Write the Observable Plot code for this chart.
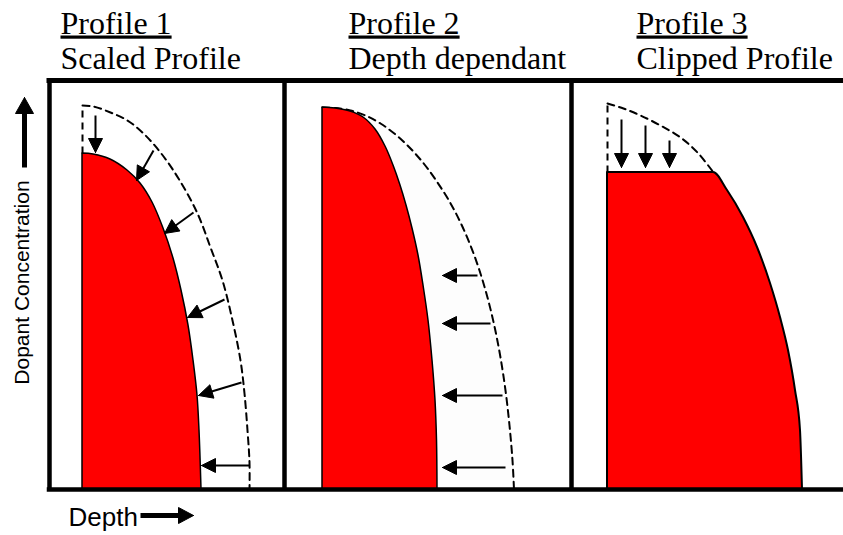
<!DOCTYPE html>
<html><head><meta charset="utf-8">
<script src="https://cdn.jsdelivr.net/npm/d3@7"></script>
<script src="https://cdn.jsdelivr.net/npm/@observablehq/plot@0.6"></script>
<style>html,body{margin:0;padding:0;background:#fff;} #chart{width:843px;height:535px;}
.serif text{font-family:"Liberation Serif","Times New Roman",Times,serif !important;}
</style>
</head><body><div id="chart"></div>
<script>
// ---- Panels ----
const panelTitles = ["Profile 1", "Profile 2", "Profile 3"];
const panelSubtitles = ["Scaled Profile", "Depth dependant", "Clipped Profile"];
const panelSurface = [33, 273, 558];      // depth position of each panel's surface
const panelDividers = [0, 235, 522];      // panel left borders (depth units)
const titleDepth = [11, 299, 587];        // title anchor per panel

// ---- Profile 1 (scaled) ----
const p1OrigDepth = [0, 11, 28, 45, 61, 78, 96, 115, 128, 140, 150, 158, 162, 165, 167, 167];
const p1OrigConc  = [384, 383, 377, 369, 356, 337, 311, 276, 242, 209, 169, 129, 96, 59, 27, 0];
const p1NewDepth  = [0, 11, 28, 45, 58, 70, 81, 91, 99, 106, 111, 115, 117, 119];
const p1NewConc   = [336, 335, 330, 319, 306, 287, 261, 231, 199, 164, 129, 94, 59, 0];
const p1ArrowFromDepth = [13, 71, 111, 142, 159, 167];
const p1ArrowFromConc  = [374, 339, 277, 190, 107, 24];
const p1ArrowToDepth   = [13, 54, 82, 105, 116, 119];
const p1ArrowToConc    = [337, 309, 256, 172, 94, 24];

// ---- Profile 2 (depth dependant) ----
const p2OrigDepth = [0, 13, 28, 43, 58, 73, 88, 102, 115, 127, 138, 148, 157, 165, 172, 178, 183, 187, 190, 191.5];
const p2OrigConc  = [382, 381.5, 379, 374, 366, 355, 341, 325, 307, 288, 267, 244, 219, 192, 163, 132, 99, 64, 29, 0];
const p2NewDepth  = [0, 13, 28, 41, 53, 63, 71, 78, 84, 90, 96, 101, 106, 110, 113, 114.5, 115];
const p2NewConc   = [382, 381, 378, 372, 360, 343, 324, 304, 284, 261, 234, 204, 169, 129, 89, 49, 0];
const p2ArrowFromDepth = [155, 168, 180, 183];
const p2ArrowToDepth   = [120, 120, 120, 120];
const p2ArrowConc      = [214, 166, 94, 22];

// ---- Profile 3 (clipped) ----
const p3OrigDepth = [0, 16, 33, 53, 73, 90, 106];
const p3OrigConc  = [386, 381, 374, 364, 352, 337, 317];
const p3NewDepth  = [0, 106, 120, 136, 150, 163, 173, 181, 188, 193, 195];
const p3NewConc   = [317, 317, 299, 272, 242, 206, 172, 139, 99, 59, 0];
const p3ArrowDepth    = [14, 38, 62];
const p3ArrowFromConc = [370, 364, 349];
const p3ArrowToConc   = [322, 322, 322];

// ---- Axis annotations ----
const yLabel = "Dopant Concentration";
const xLabel = "Depth";

// helpers
const pts = (p, depth, conc) => depth.map((d, i) => ({x: panelSurface[p] + d, y: conc[i]}));
const arrows = (p, fd, fc, td, tc) => fd.map((d, i) => ({
  x1: panelSurface[p] + d, y1: fc[i], x2: panelSurface[p] + td[i], y2: tc[i]}));

function heads(list, len, half, tag) {
  const tri = [], shafts = [];
  list.forEach((a, i) => {
    const dx = a.x2 - a.x1, dy = a.y2 - a.y1, L = Math.hypot(dx, dy);
    const ux = dx / L, uy = dy / L;
    const bx = a.x2 - ux * len, by = a.y2 - uy * len;
    const px = -uy * half, py = ux * half;
    const id = tag + i;
    tri.push({id, x: a.x2, y: a.y2}, {id, x: bx + px, y: by + py}, {id, x: bx - px, y: by - py}, {id, x: a.x2, y: a.y2});
    shafts.push({x1: a.x1, y1: a.y1, x2: a.x2 - ux * (len - 2), y2: a.y2 - uy * (len - 2)});
  });
  return {tri, shafts};
}

const orig1 = pts(0, p1OrigDepth, p1OrigConc);
const new1 = pts(0, p1NewDepth, p1NewConc);
const orig2 = pts(1, p2OrigDepth, p2OrigConc);
const new2 = pts(1, p2NewDepth, p2NewConc);
const orig3 = pts(2, p3OrigDepth, p3OrigConc);
const new3 = pts(2, p3NewDepth, p3NewConc);

const a1 = heads(arrows(0, p1ArrowFromDepth, p1ArrowFromConc, p1ArrowToDepth, p1ArrowToConc), 14, 7, "a");
const a2 = heads(arrows(1, p2ArrowFromDepth, p2ArrowConc, p2ArrowToDepth, p2ArrowConc), 14, 7, "b");
const a3 = heads(arrows(2, p3ArrowDepth, p3ArrowFromConc, p3ArrowDepth, p3ArrowToConc), 14, 7, "c");
const arrowTri = [...a1.tri, ...a2.tri, ...a3.tri];
const arrowShafts = [...a1.shafts, ...a2.shafts, ...a3.shafts];

// vertical dashed edges (surface, from new top to original top)
const vDash = [
  {x1: panelSurface[0], y1: p1NewConc[0], y2: p1OrigConc[0]},
  {x1: panelSurface[2], y1: p3NewConc[0], y2: p3OrigConc[0]}
];

// axis decoration arrows
const axisArrows = [
  {x1: -25, y1: 322, x2: -25, y2: 392},
  {x1: 91, y1: -26, x2: 144, y2: -26}
];
const axHeadY = heads([axisArrows[0]], 16, 9, "y");
const axHeadX = heads([axisArrows[1]], 15, 8, "x");

const titles = panelTitles.map((t, i) => ({x: titleDepth[i], y: 456, t}));
const subs = panelSubtitles.map((t, i) => ({x: titleDepth[i], y: 421, t}));

const dash = {stroke: "black", strokeWidth: 2, strokeDasharray: "7,5"};
const serif = "Liberation Serif";

const chart = Plot.plot({
  width: 843, height: 535,
  marginLeft: 49, marginRight: 0, marginTop: 80, marginBottom: 46,
  x: {domain: [0, 794], axis: null},
  y: {domain: [0, 409], axis: null},
  style: {background: "white", overflow: "visible"},
  marks: [
    Plot.areaY(orig2, {x: "x", y: "y", fill: "#fdfdfd", curve: "catmull-rom"}),
    Plot.line(orig1, {x: "x", y: "y", curve: "catmull-rom", ...dash}),
    Plot.line(orig2, {x: "x", y: "y", curve: "catmull-rom", ...dash}),
    Plot.line(orig3, {x: "x", y: "y", curve: "catmull-rom", ...dash}),
    Plot.link(vDash, {x1: "x1", x2: "x1", y1: "y1", y2: "y2", ...dash}),
    Plot.areaY(new1, {x: "x", y: "y", fill: "#ff0000", stroke: "black", strokeWidth: 1.5, curve: "catmull-rom"}),
    Plot.areaY(new2, {x: "x", y: "y", fill: "#ff0000", stroke: "black", strokeWidth: 1.5, curve: "catmull-rom"}),
    Plot.areaY(new3, {x: "x", y: "y", fill: "#ff0000", stroke: "black", strokeWidth: 2, curve: "monotone-x"}),
    Plot.link(arrowShafts, {x1: "x1", y1: "y1", x2: "x2", y2: "y2", stroke: "black", strokeWidth: 2}),
    Plot.line(arrowTri, {x: "x", y: "y", z: "id", fill: "black", stroke: "black", strokeWidth: 1, strokeLinejoin: "miter"}),
    // frame
    Plot.ruleY([0], {stroke: "black", strokeWidth: 4.5, strokeLinecap: "square"}),
    Plot.ruleY([409], {stroke: "black", strokeWidth: 5, strokeLinecap: "square"}),
    Plot.ruleX(panelDividers, {stroke: "black", strokeWidth: 4.5}),
    // titles
    Plot.text(titles, {x: "x", y: "y", text: "t", textAnchor: "start", lineAnchor: "bottom",
      fontFamily: serif, fontSize: 32, fill: "black", className: "serif"}),
    Plot.text(subs, {x: "x", y: "y", text: "t", textAnchor: "start", lineAnchor: "bottom",
      fontFamily: serif, fontSize: 32, fill: "black", className: "serif"}),
    // axis labels
    Plot.text([yLabel], {x: -21, y: 207, text: d => d, rotate: -90, textAnchor: "middle", lineAnchor: "bottom",
      fontFamily: "Liberation Sans", fontSize: 21, fill: "black"}),
    Plot.text([xLabel], {x: 19, y: -36, text: d => d, textAnchor: "start", lineAnchor: "bottom",
      fontFamily: "Liberation Sans", fontSize: 26, fill: "black"}),
    Plot.link(axHeadY.shafts, {x1: "x1", y1: "y1", x2: "x2", y2: "y2", stroke: "black", strokeWidth: 5}),
    Plot.link(axHeadX.shafts, {x1: "x1", y1: "y1", x2: "x2", y2: "y2", stroke: "black", strokeWidth: 5}),
    Plot.line([...axHeadY.tri, ...axHeadX.tri], {x: "x", y: "y", z: "id", fill: "black", stroke: "black", strokeWidth: 1})
  ]
});
chart.querySelectorAll("text").forEach(t => {
  if (panelTitles.includes(t.textContent) || panelSubtitles.includes(t.textContent)) {
    t.setAttribute("font-family", "Liberation Serif, Times New Roman, serif");
    t.style.fontFamily = "'Liberation Serif', 'Times New Roman', serif";
  }
  if (panelTitles.includes(t.textContent)) {
    t.style.textDecoration = "underline";
    t.setAttribute("text-decoration", "underline");
  }
});
document.getElementById("chart").appendChild(chart);
</script></body></html>
